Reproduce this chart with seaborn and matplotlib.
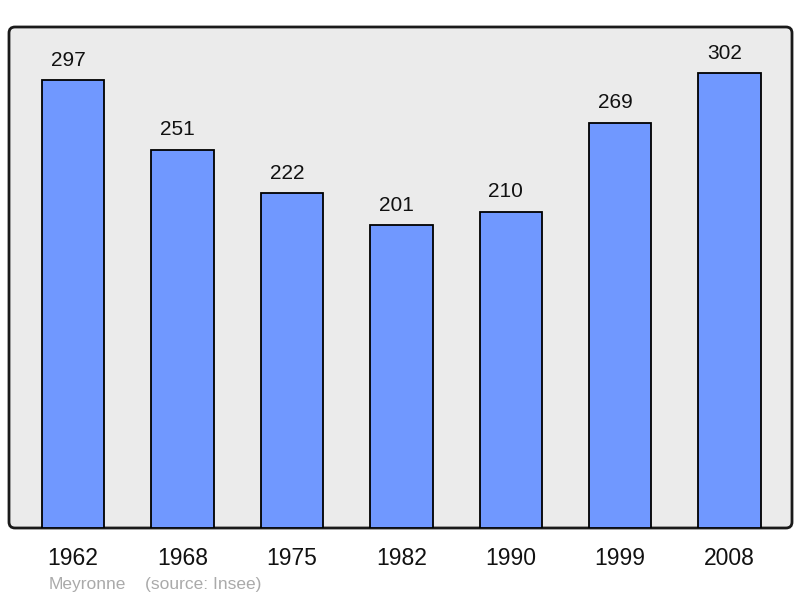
import matplotlib
matplotlib.use('Agg')
import matplotlib.pyplot as plt
import matplotlib.transforms as mtransforms
from matplotlib.patches import FancyBboxPatch
import seaborn as sns
import pandas as pd

years = ['1962', '1968', '1975', '1982', '1990', '1999', '2008']
population = [297, 251, 222, 201, 210, 269, 302]
footer_place = 'Meyronne'
footer_source = '(source: Insee)'

df = pd.DataFrame({'year': years, 'pop': population})

sns.set_style('white')
plt.rcParams['font.family'] = ['Liberation Sans', 'DejaVu Sans']

fig = plt.figure(figsize=(8, 5.98), dpi=100)
ax = fig.add_axes([9 / 800, 70 / 598, 783 / 800, 501 / 598])
ax.patch.set_visible(False)

# rounded grey frame behind the bars (pixel coords)
frame = FancyBboxPatch((9, 70), 783, 501, boxstyle='round,pad=0,rounding_size=6',
                       facecolor='#ebebeb', edgecolor='#1a1a1a', linewidth=2,
                       transform=mtransforms.IdentityTransform(), zorder=0)
fig.add_artist(frame)

sns.barplot(data=df, x='year', y='pop', color='#7098ff', saturation=1,
            width=0.57, edgecolor='black', linewidth=1.3, ax=ax, zorder=2)

for i, v in enumerate(population):
    ax.annotate(str(v), (i, v), xytext=(-3.5, 7.5), textcoords='offset points',
                ha='center', va='bottom', fontsize=15, color='#111111')

ax.set_xlim(-0.585, 6.57)
ax.set_ylim(0, 332.5)
ax.set_xlabel('')
ax.set_ylabel('')
ax.set_yticks([])
ax.tick_params(axis='x', length=0, pad=13.5, labelsize=16.5, labelcolor='#111111')
for s in ax.spines.values():
    s.set_visible(False)

fig.text(49 / 800, 1 - 584 / 598, footer_place, fontsize=12.5, color='#aaaaaa',
         ha='left', va='center')
fig.text(145 / 800, 1 - 584 / 598, footer_source, fontsize=12.5, color='#aaaaaa',
         ha='left', va='center')

fig.savefig('out.png', dpi=100)
